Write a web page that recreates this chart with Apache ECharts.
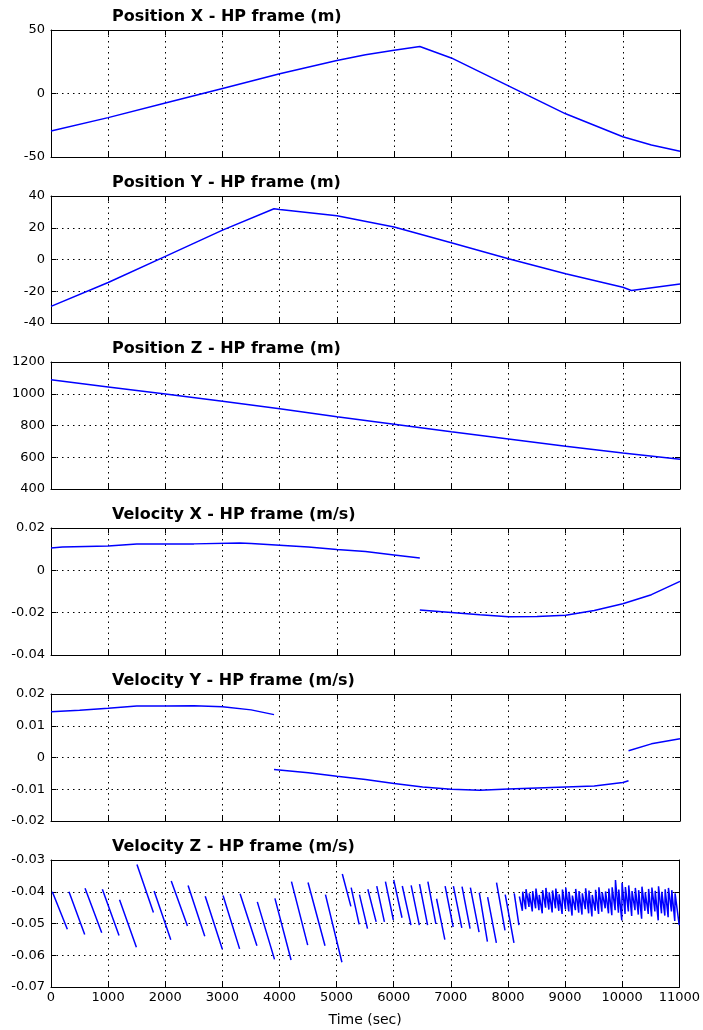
<!DOCTYPE html>
<html>
<head>
<meta charset="utf-8">
<title>HP frame position / velocity</title>
<script src="https://cdn.jsdelivr.net/npm/echarts@6/dist/echarts.min.js"></script>
<style>
  html, body { margin: 0; padding: 0; background: #fff; }
  #chart { width: 703px; height: 1030px; }
</style>
</head>
<body>
<div id="chart"></div>
<script>
// time axis (sec)
const timeMin = 0;
const timeMax = 11000;
const timeStep = 1000;

// panel titles + y ranges
const titles = [
  "Position X - HP frame (m)",
  "Position Y - HP frame (m)",
  "Position Z - HP frame (m)",
  "Velocity X - HP frame (m/s)",
  "Velocity Y - HP frame (m/s)",
  "Velocity Z - HP frame (m/s)"
];
const yMins = [-50, -40, 400, -0.04, -0.02, -0.07];
const yMaxs = [50, 40, 1200, 0.02, 0.02, -0.03];
const ySteps = [50, 20, 200, 0.02, 0.01, 0.01];

// Position X
const posXTime = [0, 1000, 2000, 3000, 4000, 5000, 5500, 6000, 6300, 6450, 7000, 8000, 9000, 9500, 10000, 10500, 11000];
const posXVal = [-29.5, -19, -7.5, 4, 15.5, 26, 30.5, 34, 36, 37, 28, 6, -16, -25, -34, -40.5, -45.5];

// Position Y
const posYTime = [0, 1000, 2000, 3000, 3900, 4000, 5000, 6000, 7000, 8000, 9000, 10000, 10150, 11000];
const posYVal = [-29.5, -14.5, 2, 18.5, 32, 31.5, 27.5, 20.5, 10.5, 0.5, -9, -17.5, -19.5, -15.5];

// Position Z
const posZTime = [0, 1000, 2000, 3000, 4000, 5000, 6000, 7000, 8000, 9000, 10000, 11000];
const posZVal = [1088, 1043, 998, 953, 905, 855, 808, 760, 715, 670, 627, 588];

// Velocity X (two pieces, jump near 6450 s)
const velXTime1 = [0, 200, 1000, 1500, 2500, 3300, 3500, 4000, 4500, 5000, 5500, 6000, 6450];
const velXVal1 = [0.0105, 0.011, 0.0115, 0.0124, 0.0125, 0.0129, 0.0127, 0.0119, 0.011, 0.0099, 0.0089, 0.0073, 0.0058];
const velXTime2 = [6450, 7000, 7500, 8000, 8500, 9000, 9500, 10000, 10500, 11000];
const velXVal2 = [-0.0187, -0.0199, -0.021, -0.0219, -0.0218, -0.0212, -0.019, -0.0158, -0.0115, -0.0052];

// Velocity Y (three pieces)
const velYTime1 = [0, 500, 1000, 1500, 2000, 2500, 3000, 3500, 3900];
const velYVal1 = [0.0144, 0.0149, 0.0155, 0.0162, 0.0162, 0.0163, 0.016, 0.015, 0.0135];
const velYTime2 = [3900, 4500, 5000, 5500, 6000, 6500, 7000, 7500, 8000, 8500, 9000, 9500, 10000, 10100];
const velYVal2 = [-0.0038, -0.0048, -0.0059, -0.0069, -0.0082, -0.0093, -0.01, -0.0103, -0.0099, -0.0096, -0.0093, -0.009, -0.0079, -0.0073];
const velYTime3 = [10100, 10500, 11000];
const velYVal3 = [0.0021, 0.0043, 0.0059];

// Velocity Z sawtooth pieces: [t start, v start, t end, v end]
const velZSegs = [
  [23, -0.04, 286, -0.0518], [315, -0.04, 590, -0.0535], [596, -0.0389, 888, -0.0529],
  [899, -0.0392, 1191, -0.0538], [1200, -0.0425, 1495, -0.0575], [1505, -0.0314, 1793, -0.0465],
  [1805, -0.0398, 2097, -0.0551], [2105, -0.0366, 2389, -0.0508], [2400, -0.038, 2692, -0.054],
  [2700, -0.0414, 3000, -0.0581], [3012, -0.0412, 3302, -0.058], [3310, -0.0406, 3605, -0.057],
  [3612, -0.0432, 3913, -0.0613], [3920, -0.0421, 4203, -0.0615], [4210, -0.0368, 4494, -0.0568],
  [4500, -0.0371, 4797, -0.057], [4805, -0.0409, 5093, -0.0622], [5100, -0.0344, 5250, -0.0446],
  [5255, -0.0387, 5395, -0.0503], [5400, -0.0409, 5541, -0.0516], [5547, -0.0392, 5692, -0.0495],
  [5703, -0.0382, 5837, -0.0495], [5855, -0.0368, 5994, -0.0489], [6000, -0.0363, 6145, -0.0482],
  [6150, -0.0382, 6302, -0.0505], [6305, -0.038, 6448, -0.0505], [6452, -0.0376, 6593, -0.0505],
  [6598, -0.0368, 6738, -0.0501], [6750, -0.0422, 6895, -0.0551], [6900, -0.0382, 7041, -0.0511],
  [7045, -0.0382, 7192, -0.0514], [7196, -0.0384, 7337, -0.0516], [7342, -0.0387, 7494, -0.0527],
  [7498, -0.0403, 7640, -0.0557], [7644, -0.0417, 7797, -0.0561], [7800, -0.0371, 7948, -0.0522],
  [7952, -0.0409, 8105, -0.0561], [8110, -0.0405, 8192, -0.0505]
];

// after ~8200 s the teeth are short and run together: [t start, v start, t end, v end]
const velZFast = [
  [8200, -0.0415, 8252, -0.046], [8258, -0.04, 8310, -0.0455], [8316, -0.0392, 8368, -0.0448],
  [8374, -0.0405, 8426, -0.0462], [8432, -0.0398, 8484, -0.0452], [8490, -0.039, 8542, -0.0458],
  [8548, -0.041, 8600, -0.0468], [8606, -0.0395, 8658, -0.045], [8664, -0.0388, 8716, -0.0456],
  [8722, -0.0402, 8774, -0.0465], [8780, -0.0396, 8832, -0.0452], [8838, -0.039, 8890, -0.046],
  [8896, -0.0408, 8948, -0.047], [8954, -0.0393, 9006, -0.0455], [9012, -0.0387, 9064, -0.0462],
  [9070, -0.04, 9122, -0.0475], [9128, -0.0412, 9180, -0.0458], [9186, -0.0391, 9238, -0.0466],
  [9244, -0.0398, 9296, -0.0472], [9302, -0.0405, 9354, -0.0455], [9360, -0.0389, 9412, -0.0468],
  [9418, -0.0396, 9470, -0.0478], [9476, -0.041, 9528, -0.046], [9534, -0.0394, 9586, -0.047],
  [9592, -0.0386, 9644, -0.0463], [9650, -0.0402, 9702, -0.0452], [9708, -0.0399, 9760, -0.0468],
  [9766, -0.039, 9818, -0.0474], [9824, -0.0386, 9876, -0.0458], [9882, -0.0363, 9934, -0.0466],
  [9940, -0.0393, 9992, -0.049], [9998, -0.0372, 10050, -0.047], [10056, -0.0385, 10108, -0.0462],
  [10114, -0.038, 10166, -0.0476], [10172, -0.0398, 10224, -0.0458], [10230, -0.0388, 10282, -0.0472],
  [10288, -0.0395, 10340, -0.0485], [10346, -0.0384, 10398, -0.046], [10404, -0.0402, 10456, -0.047],
  [10462, -0.0391, 10514, -0.0478], [10520, -0.0387, 10572, -0.0462], [10578, -0.0397, 10630, -0.049],
  [10636, -0.0383, 10688, -0.0468], [10694, -0.04, 10746, -0.0475], [10752, -0.0392, 10804, -0.048],
  [10810, -0.0388, 10862, -0.0462], [10868, -0.0395, 10920, -0.0492], [10926, -0.0405, 10998, -0.0505]
];

// layout
const gridLeft = 51;
const gridRight = 23;
const firstTop = 30;
const panelGap = 166;
const panelHeight = 127;
const fontFamily = "DejaVu Sans";
const dotted = { color: "#000", width: 1, type: [1.5, 4] };

function toPairs(times, vals) {
  return times.map((t, i) => [t, vals[i]]);
}

// pieces joined with a null point so the line breaks between them
function joinPieces(pieces) {
  const out = [];
  pieces.forEach((p, k) => {
    if (k > 0) out.push([p[0][0], null]);
    p.forEach(pt => out.push(pt));
  });
  return out;
}

// plain tick text: no thousands separator, no float noise
function tickText(v) {
  return String(+v.toFixed(4));
}

const fastPiece = [];
velZFast.forEach(s => { fastPiece.push([s[0], s[1]], [s[2], s[3]]); });

const panelData = [
  toPairs(posXTime, posXVal),
  toPairs(posYTime, posYVal),
  toPairs(posZTime, posZVal),
  joinPieces([toPairs(velXTime1, velXVal1), toPairs(velXTime2, velXVal2)]),
  joinPieces([toPairs(velYTime1, velYVal1), toPairs(velYTime2, velYVal2), toPairs(velYTime3, velYVal3)]),
  joinPieces(velZSegs.map(s => [[s[0], s[1]], [s[2], s[3]]]).concat([fastPiece]))
];

const grids = [];
const xAxes = [];
const yAxes = [];
const series = [];
const titleList = [];

for (let i = 0; i < 6; i++) {
  const top = firstTop + i * panelGap;
  const last = i === 5;
  grids.push({ left: gridLeft, right: gridRight, top: top, height: panelHeight, show: false });

  titleList.push({
    text: titles[i],
    left: 112,
    top: top - 21,
    padding: 0,
    textStyle: { fontFamily: fontFamily, fontWeight: "bold", fontSize: 16, color: "#000" }
  });

  ["bottom", "top"].forEach(pos => {
    const main = pos === "bottom";
    xAxes.push({
      type: "value",
      gridIndex: i,
      position: pos,
      min: timeMin,
      max: timeMax,
      interval: timeStep,
      axisLine: { show: true, onZero: false, lineStyle: { color: "#000", width: 1 } },
      axisTick: { show: true, inside: true, length: 5, lineStyle: { color: "#000" } },
      axisLabel: {
        show: main && last, color: "#000", fontSize: 13, margin: 4,
        fontFamily: fontFamily, showMinLabel: true, showMaxLabel: true,
        formatter: tickText
      },
      splitLine: { show: main, lineStyle: dotted },
      name: main && last ? "Time (sec)" : "",
      nameLocation: "middle",
      nameGap: 26,
      nameTextStyle: { color: "#000", fontSize: 14, fontFamily: fontFamily }
    });
  });

  ["left", "right"].forEach(pos => {
    const main = pos === "left";
    yAxes.push({
      type: "value",
      gridIndex: i,
      position: pos,
      min: yMins[i],
      max: yMaxs[i],
      interval: ySteps[i],
      axisLine: { show: true, onZero: false, lineStyle: { color: "#000", width: 1 } },
      axisTick: { show: true, inside: true, length: 5, lineStyle: { color: "#000" } },
      axisLabel: { show: main, color: "#000", fontSize: 13, margin: 6, fontFamily: fontFamily, formatter: tickText },
      splitLine: { show: main, lineStyle: dotted }
    });
  });

  series.push({
    type: "line",
    xAxisIndex: i * 2,
    yAxisIndex: i * 2,
    data: panelData[i],
    showSymbol: false,
    symbol: "none",
    connectNulls: false,
    lineStyle: { color: "#0000ff", width: 1.5 },
    animation: false
  });
}

const chart = echarts.init(document.getElementById("chart"));
chart.setOption({
  backgroundColor: "#fff",
  animation: false,
  title: titleList,
  grid: grids,
  xAxis: xAxes,
  yAxis: yAxes,
  series: series
});
</script>
</body>
</html>
